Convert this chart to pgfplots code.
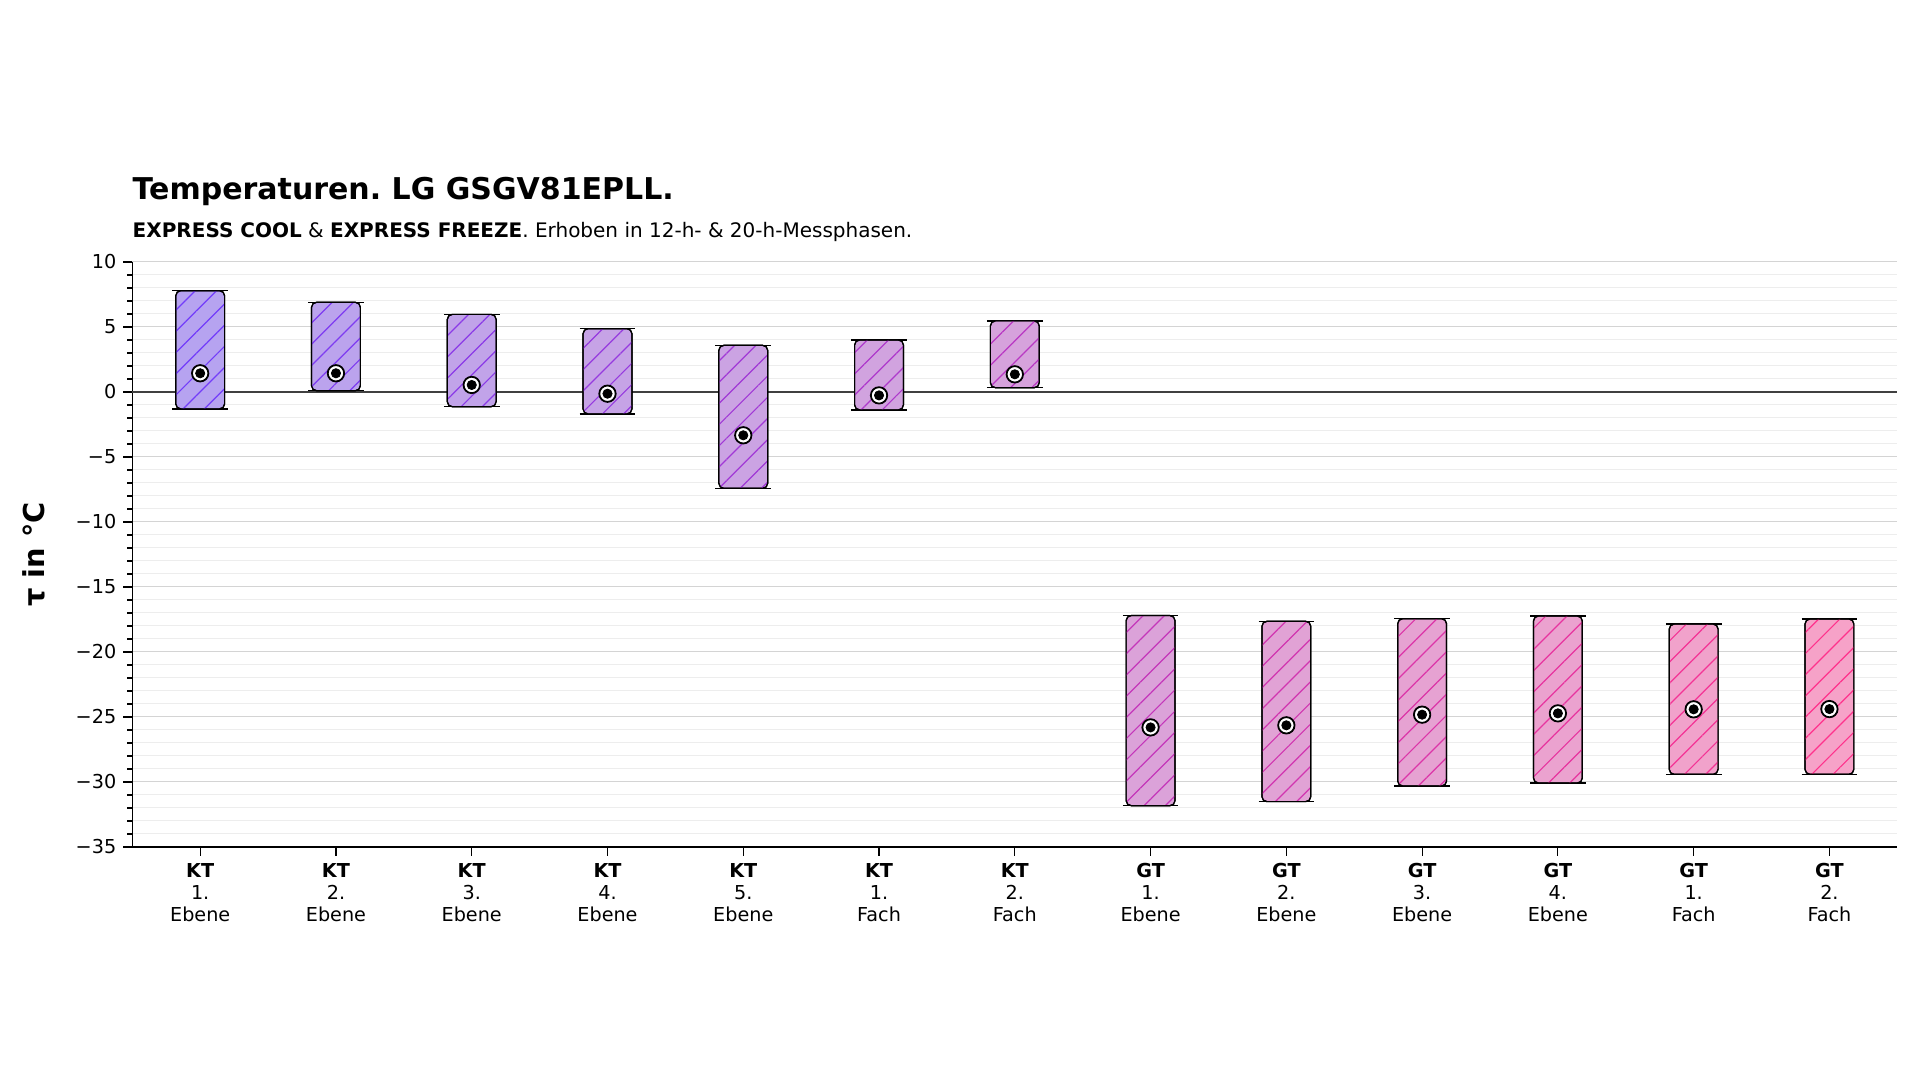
\documentclass[border=0pt]{standalone}
\usepackage{fontspec}
\setmainfont{DejaVu Sans}
\usepackage{pgfplots}
\pgfplotsset{compat=1.18}
\usepgfplotslibrary{statistics}
\usetikzlibrary{patterns.meta}
\frenchspacing
\definecolor{fA}{RGB}{182,163,240}
\definecolor{fB}{RGB}{246,162,200}
\definecolor{hA}{RGB}{115,60,250}
\definecolor{hB}{RGB}{255,50,140}
% #1 position, #2 min, #3 max, #4 colour mix
\newcommand{\rbar}[4]{%
\addplot[boxplot prepared={draw direction=y, draw position=#1, lower whisker=#2, lower quartile=#2, median=#2, upper quartile=#3, upper whisker=#3, box extend=0.36, whisker extend=0.41},
  boxplot/every box/.style={draw=black, line width=0.6pt, rounded corners=2.5pt, fill=fB!#4!fA, postaction={pattern={Lines[angle=45,distance=7.5pt,line width=0.6pt]}, pattern color=hB!#4!hA}},
  boxplot/every whisker/.style={draw=black, line width=0.7pt},
  boxplot/every median/.style={draw=none}] coordinates {};}
\begin{document}
\begin{tikzpicture}
\useasboundingbox (-66.15pt,-116.5pt) rectangle (893.85pt,423.5pt);
\begin{axis}[
  at={(0,0)}, anchor=south west,
  scale only axis, width=882.5pt, height=292.5pt,
  xmin=-0.5, xmax=12.5, ymin=-35, ymax=10,
  boxplot/draw direction=y,
  axis x line*=bottom, axis y line*=left,
  axis line style={black, line width=0.6pt},
  tick align=outside, tick style={black, line width=0.6pt},
  major tick length=4.5pt, minor tick length=2.5pt,
  xtick={0,...,12}, minor x tick num=0,
  xticklabels={{\textbf{KT}\\1.\\Ebene},{\textbf{KT}\\2.\\Ebene},{\textbf{KT}\\3.\\Ebene},{\textbf{KT}\\4.\\Ebene},{\textbf{KT}\\5.\\Ebene},{\textbf{KT}\\1.\\Fach},{\textbf{KT}\\2.\\Fach},{\textbf{GT}\\1.\\Ebene},{\textbf{GT}\\2.\\Ebene},{\textbf{GT}\\3.\\Ebene},{\textbf{GT}\\4.\\Ebene},{\textbf{GT}\\1.\\Fach},{\textbf{GT}\\2.\\Fach}},
  xticklabel style={align=center, font=\fontsize{9.6}{11}\selectfont},
  ytick={-35,-30,-25,-20,-15,-10,-5,0,5,10},
  yticklabels={−35,−30,−25,−20,−15,−10,−5,0,5,10},
  yticklabel style={font=\fontsize{9.6}{11}\selectfont},
  minor y tick num=4,
  ymajorgrids, yminorgrids,
  major grid style={black!17, line width=0.5pt},
  minor grid style={black!7, line width=0.5pt},
  extra y ticks={0}, extra y tick labels={},
  extra y tick style={grid=major, major grid style={black!75, line width=0.6pt}},
]
\rbar{0}{-1.30}{7.79}{0}
\rbar{1}{0.10}{6.90}{8}
\rbar{2}{-1.13}{5.97}{17}
\rbar{3}{-1.69}{4.87}{25}
\rbar{4}{-7.41}{3.59}{33}
\rbar{5}{-1.38}{4.00}{42}
\rbar{6}{0.33}{5.47}{50}
\rbar{7}{-31.82}{-17.20}{58}
\rbar{8}{-31.51}{-17.64}{67}
\rbar{9}{-30.31}{-17.44}{75}
\rbar{10}{-30.08}{-17.23}{83}
\rbar{11}{-29.41}{-17.85}{92}
\rbar{12}{-29.41}{-17.46}{100}
\addplot[only marks, mark=*, mark size=4.1pt, mark options={fill=white, draw=black, line width=0.9pt}] coordinates {
(0,1.44) (1,1.44) (2,0.54) (3,-0.13) (4,-3.33) (5,-0.26) (6,1.36)
(7,-25.80) (8,-25.64) (9,-24.82) (10,-24.72) (11,-24.41) (12,-24.39)};
\addplot[only marks, mark=*, mark size=2.3pt, mark options={fill=black, draw=black}] coordinates {
(0,1.44) (1,1.44) (2,0.54) (3,-0.13) (4,-3.33) (5,-0.26) (6,1.36)
(7,-25.80) (8,-25.64) (9,-24.82) (10,-24.72) (11,-24.41) (12,-24.39)};
\end{axis}
\node[anchor=base west, inner sep=0pt, font=\fontsize{15}{18}\selectfont\bfseries] at (0,323.85pt) {Temperaturen. LG GSGV81EPLL.};
\node[anchor=base west, inner sep=0pt, font=\fontsize{10}{12}\selectfont] at (0,304.85pt) {\textbf{EXPRESS COOL} \& \textbf{EXPRESS FREEZE}. Erhoben in 12-h- \& 20-h-Messphasen.};
\node[rotate=90, inner sep=0pt, font=\fontsize{14.4}{17}\selectfont\bfseries] at (-49.15pt,146.25pt) {τ in °C};
\end{tikzpicture}
\end{document}
